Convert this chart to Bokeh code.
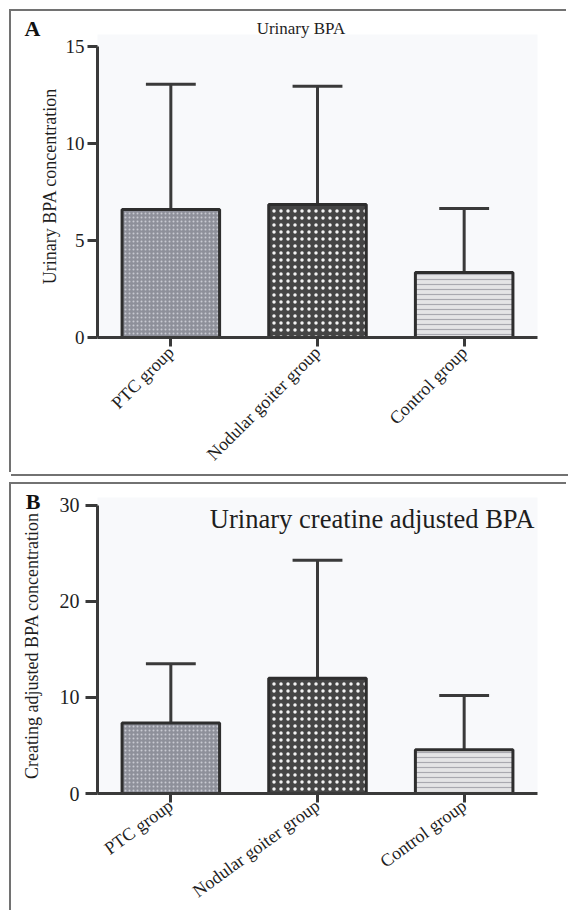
import math
from bokeh.plotting import figure
from bokeh.models import ColumnDataSource, Range1d, FactorRange, FixedTicker, Label, InlineStyleSheet
from bokeh.layouts import column
from bokeh.embed import file_html
from bokeh.resources import INLINE

# ---------------- data ----------------
groups = ["PTC group", "Nodular goiter group", "Control group"]

a_means = [6.6, 6.85, 3.35]
a_upper = [13.05, 12.95, 6.65]
a_ticks = [0, 5, 10, 15]

b_means = [7.35, 12.0, 4.55]
b_upper = [13.5, 24.3, 10.2]
b_ticks = [0, 10, 20, 30]

# ---------------- styles ----------------
FONT = "Liberation Serif"
bar_fill = ["#8e909a", "#454545", "#e4e4e6"]
bar_hatch = ["dot", "dot", "horizontal_line"]
bar_hatch_color = ["#c9cad2", "#f4f4f4", "#a9a9b0"]
bar_hatch_scale = [4, 7, 5]
INK = "#3a3a3a"
TXT = "#1e1e1e"
BG = "#f8f9fb"
BOX = "#727272"
FIG_LEFT = 11
FIG_W = 557


def panel(letter, letter_side, title, title_size, title_pos, title_align, title_in_frame,
          ylabel, means, upper, ticks, fig_top, fig_h, f_left, f_right, f_top, f_bottom,
          y_top_page, letter_pos, box_css, margin, tick_out, ylab_standoff, tick_standoff,
          tick_size, xlab_size, xlab_angle, xlab_standoff):
    frame_w = f_right - f_left
    frame_h = f_bottom - f_top
    ppu_y = (f_bottom - y_top_page) / ticks[-1]
    ymax = frame_h / ppu_y
    ppu_x = frame_w / len(groups)

    def xd(px):
        return (px - f_left) / ppu_x

    def yd(py):
        return (f_bottom - py) / ppu_y

    bl = f_left - FIG_LEFT
    bt = f_top - fig_top
    p = figure(width=FIG_W, height=fig_h, x_range=FactorRange(*groups),
               y_range=Range1d(0, ymax), output_backend="svg", toolbar_location=None,
               min_border_left=bl, min_border_right=FIG_W - bl - frame_w,
               min_border_top=bt, min_border_bottom=fig_h - bt - frame_h,
               margin=margin, stylesheets=[InlineStyleSheet(css=box_css)])
    p.background_fill_color = BG
    p.border_fill_color = "white"
    p.outline_line_color = None
    p.grid.grid_line_color = None

    src = ColumnDataSource(dict(g=groups, m=means, u=upper,
                                c0=[(g, -0.17) for g in groups],
                                c1=[(g, 0.17) for g in groups],
                                fill=bar_fill, hp=bar_hatch, hc=bar_hatch_color, hs=bar_hatch_scale))
    p.segment(x0="g", y0="m", x1="g", y1="u", source=src, line_color=INK, line_width=3)
    p.segment(x0="c0", y0="u", x1="c1", y1="u", source=src, line_color=INK, line_width=3)
    p.vbar(x="g", top="m", bottom=0, width=0.665, source=src, fill_color="fill",
           line_color="#2e2e2e", line_width=3, hatch_pattern="hp", hatch_color="hc",
           hatch_scale="hs", hatch_weight=1.2)

    ya = p.yaxis[0]
    ya.ticker = FixedTicker(ticks=ticks)
    ya.bounds = (0, ticks[-1])
    ya.axis_line_width = 3
    ya.axis_line_color = INK
    ya.major_tick_line_width = 3
    ya.major_tick_line_color = INK
    ya.major_tick_out = tick_out
    ya.major_tick_in = 0
    ya.minor_tick_line_color = None
    ya.major_label_text_font = FONT
    ya.major_label_text_font_size = tick_size
    ya.major_label_text_color = TXT
    ya.major_label_standoff = tick_standoff
    ya.axis_label = ylabel
    ya.axis_label_text_font = FONT
    ya.axis_label_text_font_size = "18px"
    ya.axis_label_text_font_style = "normal"
    ya.axis_label_text_color = TXT
    ya.axis_label_standoff = ylab_standoff

    xa = p.xaxis[0]
    xa.axis_line_width = 3
    xa.axis_line_color = INK
    xa.major_tick_line_width = 3
    xa.major_tick_line_color = INK
    xa.major_tick_out = 9
    xa.major_tick_in = 0
    xa.major_label_orientation = xlab_angle
    xa.major_label_text_font = FONT
    xa.major_label_text_font_size = xlab_size
    xa.major_label_text_color = TXT
    xa.major_label_standoff = xlab_standoff

    p.add_layout(Label(x=xd(letter_pos[0]), y=yd(letter_pos[1]), text=letter,
                       text_font=FONT, text_font_style="bold", text_font_size="22px",
                       text_color="#111111", text_baseline="alphabetic", text_align="left"),
                 letter_side)
    t = Label(x=xd(title_pos[0]), y=yd(title_pos[1]), text=title,
              text_font=FONT, text_font_size=title_size, text_color=TXT,
              text_baseline="alphabetic", text_align=title_align)
    if title_in_frame:
        p.add_layout(t)
    else:
        p.add_layout(t, "above")
    return p


# panel boxes: thin grey rules drawn as CSS shadows just outside each figure's host element
box_a = f":host {{ box-shadow: -2px -2px 0 0 {BOX}, 0 2px 0 0 {BOX}; }}"
box_b = f":host {{ box-shadow: -2px -2px 0 0 {BOX}; }}"

pa = panel("A", "left", "Urinary BPA", "17px", (306, 28), "center", False,
           "Urinary BPA concentration", a_means, a_upper, a_ticks,
           fig_top=11, fig_h=463, f_left=97, f_right=549, f_top=34, f_bottom=338,
           y_top_page=46, letter_pos=(22, 28), box_css=box_a, margin=(11, 0, 0, FIG_LEFT),
           tick_out=10, ylab_standoff=3, tick_standoff=3, tick_size="19px",
           xlab_size="18px", xlab_angle=math.pi / 4, xlab_standoff=3)
pb = panel("B", "right", "Urinary creatine adjusted BPA", "26.6px", (204, 519), "left", True,
           "Creating adjusted BPA concentration", b_means, b_upper, b_ticks,
           fig_top=484, fig_h=428, f_left=90, f_right=537, f_top=497, f_bottom=796,
           y_top_page=505, letter_pos=(17, 501), box_css=box_b, margin=(10, 0, 0, FIG_LEFT),
           tick_out=12, ylab_standoff=15, tick_standoff=6, tick_size="20px",
           xlab_size="18px", xlab_angle=0.63, xlab_standoff=1)

layout = column(pa, pb, spacing=0)
open("out.html", "w").write(file_html(layout, INLINE))
